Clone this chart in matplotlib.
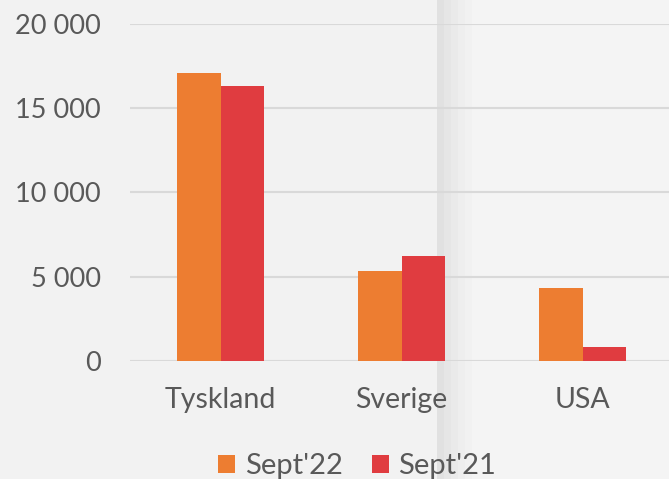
import matplotlib
matplotlib.use("Agg")
import matplotlib.pyplot as plt
from matplotlib.patches import Rectangle
import numpy as np

categories = ["Tyskland", "Sverige", "USA"]
sept22 = [17100, 5350, 4330]
sept21 = [16300, 6230, 830]
series_names = ["Sept'22", "Sept'21"]
yticks = [0, 5000, 10000, 15000, 20000]
ytick_labels = ["0", "5 000", "10 000", "15 000", "20 000"]

W, H = 669, 479
fig = plt.figure(figsize=(W / 100, H / 100), dpi=100)
fig.patch.set_facecolor("#f2f2f2")

def px_rect(x0, x1, color):
    r = Rectangle((x0 / W, 0), (x1 - x0) / W, 1, transform=fig.transFigure,
                  facecolor=color, edgecolor="none", zorder=-5)
    fig.add_artist(r)

# shadow band (screenshot artifact)
px_rect(437, 669, "#f4f4f4")
px_rect(437, 444, "#e1e1e1")
px_rect(444, 451, "#e6e6e6")
px_rect(451, 458, "#eaeaea")
px_rect(458, 465, "#eeeeee")
px_rect(465, 472, "#f1f1f1")

left, right = 130, 673
bottom, top = 361, 24
ax = fig.add_axes([left / W, (H - bottom) / H, (right - left) / W, (bottom - top) / H])
ax.set_facecolor("none")

x = np.arange(len(categories))
bw = 0.238
ax.bar(x - bw / 2, sept22, bw, color="#ED7D31", label=series_names[0], zorder=3)
ax.bar(x + bw / 2, sept21, bw, color="#E03C40", label=series_names[1], zorder=3)

ax.set_xlim(-0.5, 2.5)
ax.set_ylim(0, 20000)
ax.set_yticks(yticks)
ax.set_yticklabels(ytick_labels)
ax.set_xticks(x)
ax.set_xticklabels(categories)
ax.grid(axis="y", color="#d9d9d9", linewidth=1.5, zorder=0)
for s in ax.spines.values():
    s.set_visible(False)
ax.tick_params(axis="both", length=0, colors="#595959")
ax.tick_params(axis="y", pad=21)
ax.tick_params(axis="x", pad=18.5)
for lbl in ax.get_yticklabels():
    lbl.set_fontfamily("Lato")
    lbl.set_fontsize(19.5)
for lbl in ax.get_xticklabels():
    lbl.set_fontfamily("Lato")
    lbl.set_fontsize(20.5)

leg = fig.legend(loc="center", bbox_to_anchor=(357 / W, (H - 466) / H), ncol=2,
                 frameon=False, prop={"family": "Lato", "size": 21},
                 handlelength=0.58, handleheight=0.58, handletextpad=0.32,
                 columnspacing=1.0, labelcolor="#595959")

fig.savefig("out.png", dpi=100, facecolor=fig.get_facecolor())
